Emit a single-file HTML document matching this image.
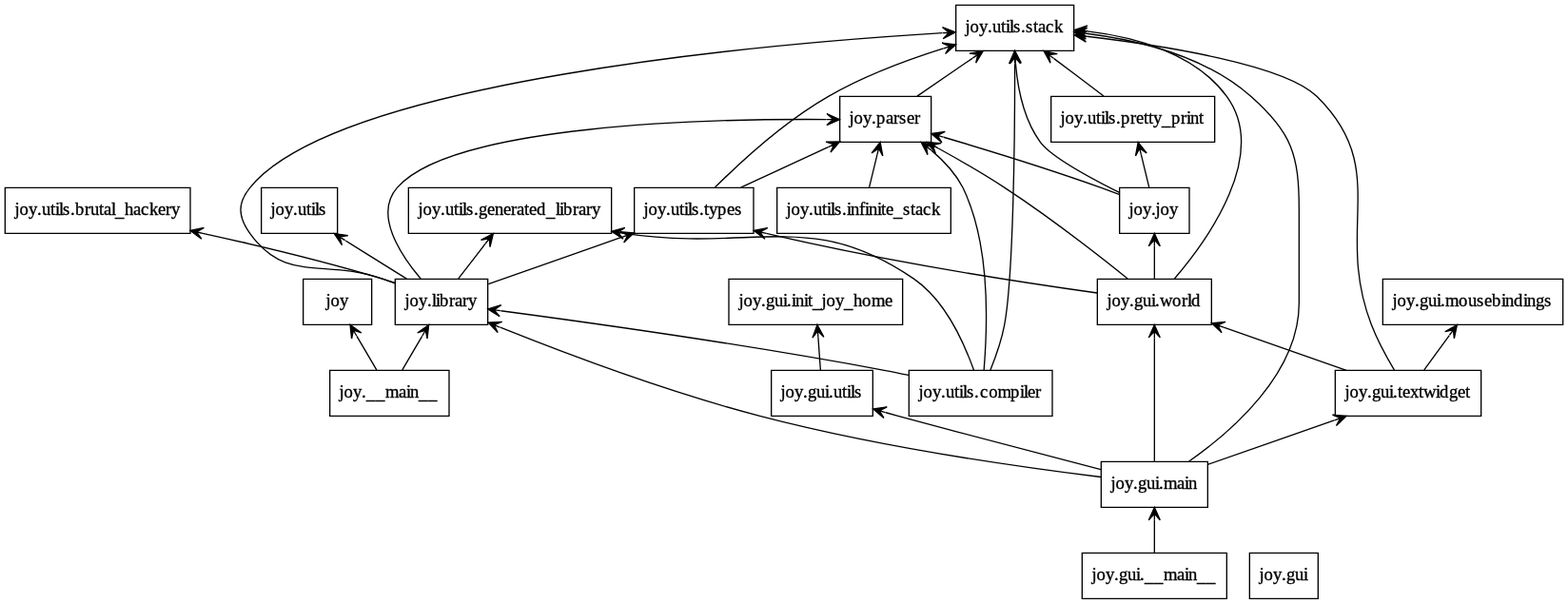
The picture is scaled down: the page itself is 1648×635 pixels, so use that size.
<!DOCTYPE html>
<html lang="en">
<head>
<meta charset="utf-8">
<title>packages</title>
<style>
html,body{margin:0;padding:0;background:#fff;}
body{width:1648px;height:635px;overflow:hidden;}
svg{display:block;will-change:transform;}
svg text{font-family:"Liberation Serif","Times New Roman",Times,serif;font-size:14px;fill:#000;stroke:#000;stroke-width:0.26px;}
</style>
</head>
<body>
<svg width="1648" height="635" viewBox="0 0 1236 476.25">
<g id="graph0" class="graph" transform="scale(1 1) rotate(0) translate(4 472)">
<polygon fill="white" stroke="none" points="-4,4 -4,-472 1232,-472 1232,4 -4,4"/>
<g class="node">
<polygon fill="none" stroke="black" points="289,-252 235,-252 235,-216 289,-216 289,-252"/>
<text x="252.8 256.55 263.75" y="-230.5">joy</text>
</g>
<g class="node">
<polygon fill="none" stroke="black" points="350,-180 256,-180 256,-144 350,-144 350,-180"/>
<text x="263.3 267.05 274.25 281 284.75 292.25 299.75 310.25 316.25 319.25 326 333.5" y="-158.5 -158.5 -158.5 -158.5 -157.075 -157.075 -158.5 -158.5 -158.5 -158.5 -157.075 -157.075">joy.__main__</text>
</g>
<g class="edge">
<path fill="none" stroke="black" d="M292.87,-180.3C288.15,-188.36 282.44,-198.11 277.22,-207.02"/>
<polygon fill="black" stroke="black" points="272.02,-215.9 273.19,-204.99 274.55,-211.58 277.07,-207.27 277.07,-207.27 277.07,-207.27 274.55,-211.58 280.96,-209.54 272.02,-215.9 272.02,-215.9"/>
</g>
<g class="node">
<polygon fill="none" stroke="black" points="380.5,-252 307.5,-252 307.5,-216 380.5,-216 380.5,-252"/>
<text x="315.05 318.8 326 332.75 336.5 339.5 342.5 350 354.5 360.5 365" y="-230.5">joy.library</text>
</g>
<g class="edge">
<path fill="none" stroke="black" d="M313.13,-180.3C317.85,-188.36 323.56,-198.11 328.78,-207.02"/>
<polygon fill="black" stroke="black" points="333.98,-215.9 325.04,-209.54 331.45,-211.58 328.93,-207.27 328.93,-207.27 328.93,-207.27 331.45,-211.58 332.81,-204.99 333.98,-215.9 333.98,-215.9"/>
</g>
<g class="node">
<polygon fill="none" stroke="black" points="1035,-36 981,-36 981,0 1035,0 1035,-36"/>
<text x="988.55 992.3 999.5 1006.25 1010 1016.75 1023.5" y="-14.5">joy.gui</text>
</g>
<g class="node">
<polygon fill="none" stroke="black" points="963,-36 849,-36 849,0 963,0 963,-36"/>
<text x="856.55 860.3 867.5 874.25 878 884.75 891.5 894.5 898.25 905.75 913.25 923.75 929.75 932.75 939.5 947" y="-14.5 -14.5 -14.5 -14.5 -14.5 -14.5 -14.5 -14.5 -13.075 -13.075 -14.5 -14.5 -14.5 -14.5 -13.075 -13.075">joy.gui.__main__</text>
</g>
<g class="node">
<polygon fill="none" stroke="black" points="948,-108 864,-108 864,-72 948,-72 948,-108"/>
<text x="871.55 875.3 882.5 889.25 893 899.75 906.5 909.5 913.25 923.75 929.75 932.75" y="-86.5">joy.gui.main</text>
</g>
<g class="edge">
<path fill="none" stroke="black" d="M906,-36.3C906,-44.02 906,-53.29 906,-61.89"/>
<polygon fill="black" stroke="black" points="906,-71.9 901.5,-61.9 906,-66.9 906,-61.9 906,-61.9 906,-61.9 906,-66.9 910.5,-61.9 906,-71.9 906,-71.9"/>
</g>
<g class="node">
<polygon fill="none" stroke="black" points="707.5,-252 570.5,-252 570.5,-216 707.5,-216 707.5,-252"/>
<text x="578.3 582.05 589.25 596 599.75 606.5 613.25 616.25 620 623 629.75 632.75 636.5 643.55 647.3 654.5 661.25 668.75 675.5 683 693.5" y="-230.5 -230.5 -230.5 -230.5 -230.5 -230.5 -230.5 -230.5 -230.5 -230.5 -230.5 -230.5 -229.075 -230.5 -230.5 -230.5 -229.075 -230.5 -230.5 -230.5 -230.5">joy.gui.init_joy_home</text>
</g>
<g class="node">
<polygon fill="none" stroke="black" points="1163.5,-180 1048.5,-180 1048.5,-144 1163.5,-144 1163.5,-180"/>
<text x="1056.05 1059.8 1067 1073.75 1077.5 1084.25 1091 1094 1097.75 1101.5 1107.5 1114.25 1118 1127.75 1130.75 1138.25 1145 1151" y="-158.5">joy.gui.textwidget</text>
</g>
<g class="edge">
<path fill="none" stroke="black" d="M948.41,-105.85C977.3,-115.96 1015.92,-129.47 1047.69,-140.59"/>
<polygon fill="black" stroke="black" points="1057.31,-143.96 1046.39,-144.9 1052.59,-142.31 1047.88,-140.66 1047.88,-140.66 1047.88,-140.66 1052.59,-142.31 1049.36,-136.41 1057.31,-143.96 1057.31,-143.96"/>
</g>
<g class="node">
<polygon fill="none" stroke="black" points="684,-180 604,-180 604,-144 684,-144 684,-180"/>
<text x="611.3 615.05 622.25 629 632.75 639.5 646.25 649.25 653 659.75 663.5 666.5 669.5" y="-158.5">joy.gui.utils</text>
</g>
<g class="edge">
<path fill="none" stroke="black" d="M863.77,-101.83C822.85,-112.37 759.09,-128.97 704,-144 700.81,-144.87 697.54,-145.77 694.23,-146.69"/>
<polygon fill="black" stroke="black" points="684.31,-149.46 692.73,-142.44 689.13,-148.12 693.94,-146.77 693.94,-146.77 693.94,-146.77 689.13,-148.12 695.16,-151.1 684.31,-149.46 684.31,-149.46"/>
</g>
<g class="node">
<polygon fill="none" stroke="black" points="951,-252 861,-252 861,-216 951,-216 951,-252"/>
<text x="868.55 872.3 879.5 886.25 890 896.75 903.5 906.5 910.25 920 927.5 932 935" y="-230.5">joy.gui.world</text>
</g>
<g class="edge">
<path fill="none" stroke="black" d="M906,-108.13C906,-132.33 906,-176.79 906,-205.61"/>
<polygon fill="black" stroke="black" points="906,-215.81 901.5,-205.81 906,-210.81 906,-205.81 906,-205.81 906,-205.81 906,-210.81 910.5,-205.81 906,-215.81 906,-215.81"/>
</g>
<g class="edge">
<path fill="none" stroke="black" d="M863.76,-95.86C803.49,-103.31 689.61,-119.36 595,-144 522.01,-163.01 440.13,-193.93 390.32,-213.86"/>
<polygon fill="black" stroke="black" points="380.8,-217.7 388.39,-209.79 385.44,-215.83 390.07,-213.96 390.07,-213.96 390.07,-213.96 385.44,-215.83 391.75,-218.14 380.8,-217.7 380.8,-217.7"/>
</g>
<g class="node">
<polygon fill="none" stroke="black" points="842.5,-468 749.5,-468 749.5,-432 842.5,-432 842.5,-468"/>
<text x="756.8 760.55 767.75 774.5 778.25 785 788.75 791.75 794.75 800.75 804.5 810.5 814.25 820.25 827" y="-446.5">joy.utils.stack</text>
</g>
<g class="edge">
<path fill="none" stroke="black" d="M933.02,-108.04C966.73,-131.63 1020,-177.67 1020,-233 1020,-233 1020,-233 1020,-307 1020,-350.01 1014.27,-367.56 982,-396 946.24,-427.52 892.94,-440.38 852.55,-445.58"/>
<polygon fill="black" stroke="black" points="842.58,-446.75 851.99,-441.12 847.55,-446.17 852.51,-445.59 852.51,-445.59 852.51,-445.59 847.55,-446.17 853.03,-450.06 842.58,-446.75 842.58,-446.75"/>
</g>
<g class="node">
<polygon fill="none" stroke="black" points="1228,-252 1086,-252 1086,-216 1228,-216 1228,-252"/>
<text x="1093.55 1097.3 1104.5 1111.25 1115 1121.75 1128.5 1131.5 1135.25 1145.75 1153.25 1160 1166 1172 1179.5 1182.5 1189.25 1196.75 1199.75 1206.5 1213.25" y="-230.5">joy.gui.mousebindings</text>
</g>
<g class="edge">
<path fill="none" stroke="black" d="M1118.61,-180.3C1124.6,-188.53 1131.88,-198.52 1138.48,-207.58"/>
<polygon fill="black" stroke="black" points="1144.54,-215.9 1135.01,-210.46 1141.59,-211.85 1138.65,-207.81 1138.65,-207.81 1138.65,-207.81 1141.59,-211.85 1142.29,-205.16 1144.54,-215.9 1144.54,-215.9"/>
</g>
<g class="edge">
<path fill="none" stroke="black" d="M1057.33,-180.03C1028.12,-190.26 990.88,-203.29 960.66,-213.87"/>
<polygon fill="black" stroke="black" points="951.11,-217.21 959.07,-209.66 955.83,-215.56 960.55,-213.91 960.55,-213.91 960.55,-213.91 955.83,-215.56 962.04,-218.15 951.11,-217.21 951.11,-217.21"/>
</g>
<g class="edge">
<path fill="none" stroke="black" d="M1095.12,-180.1C1089.07,-190.22 1081.82,-203.47 1077,-216 1047.44,-292.76 1092.61,-338.29 1034,-396 1008.75,-420.86 914.73,-435.88 852.69,-443.29"/>
<polygon fill="black" stroke="black" points="842.64,-444.45 852.05,-438.83 847.61,-443.88 852.57,-443.3 852.57,-443.3 852.57,-443.3 847.61,-443.88 853.09,-447.77 842.64,-444.45 842.64,-444.45"/>
</g>
<g class="edge">
<path fill="none" stroke="black" d="M642.76,-180.3C642.21,-188.02 641.55,-197.29 640.94,-205.89"/>
<polygon fill="black" stroke="black" points="640.22,-215.9 636.45,-205.6 640.58,-210.91 640.93,-205.92 640.93,-205.92 640.93,-205.92 640.58,-210.91 645.42,-206.24 640.22,-215.9 640.22,-215.9"/>
</g>
<g class="node">
<polygon fill="none" stroke="black" points="933.5,-324 878.5,-324 878.5,-288 933.5,-288 933.5,-324"/>
<text x="885.8 889.55 896.75 903.5 906.8 910.55 917.75" y="-302.5">joy.joy</text>
</g>
<g class="edge">
<path fill="none" stroke="black" d="M906,-252.3C906,-260.02 906,-269.29 906,-277.89"/>
<polygon fill="black" stroke="black" points="906,-287.9 901.5,-277.9 906,-282.9 906,-277.9 906,-277.9 906,-277.9 906,-282.9 910.5,-277.9 906,-287.9 906,-287.9"/>
</g>
<g class="node">
<polygon fill="none" stroke="black" points="730,-396 658,-396 658,-360 730,-360 730,-396"/>
<text x="665.3 669.05 676.25 683 686.75 694.25 700.25 704.75 710.75 716.75" y="-374.5">joy.parser</text>
</g>
<g class="edge">
<path fill="none" stroke="black" d="M884.87,-252.29C861.73,-270.9 823.2,-300.94 788,-324 771.34,-334.91 752.3,-345.9 735.74,-355.02"/>
<polygon fill="black" stroke="black" points="726.82,-359.88 733.45,-351.15 731.21,-357.49 735.6,-355.1 735.6,-355.1 735.6,-355.1 731.21,-357.49 737.76,-359.05 726.82,-359.88 726.82,-359.88"/>
</g>
<g class="edge">
<path fill="none" stroke="black" d="M921.63,-252.03C948.25,-283.17 996.45,-350.3 963,-396 938.04,-430.11 890.98,-442.8 853.17,-447.28"/>
<polygon fill="black" stroke="black" points="842.77,-448.34 852.27,-442.85 847.75,-447.83 852.72,-447.33 852.72,-447.33 852.72,-447.33 847.75,-447.83 853.18,-451.81 842.77,-448.34 842.77,-448.34"/>
</g>
<g class="node">
<polygon fill="none" stroke="black" points="590,-324 496,-324 496,-288 590,-288 590,-324"/>
<text x="503.3 507.05 514.25 521 524.75 531.5 535.25 538.25 541.25 547.25 551 554.75 561.5 569 575" y="-302.5">joy.utils.types</text>
</g>
<g class="edge">
<path fill="none" stroke="black" d="M860.91,-241C802.68,-249.14 698.11,-265.09 600.02,-287.91"/>
<polygon fill="black" stroke="black" points="590.24,-290.21 598.95,-283.54 595.11,-289.06 599.98,-287.92 599.98,-287.92 599.98,-287.92 595.11,-289.06 601.01,-292.3 590.24,-290.21 590.24,-290.21"/>
</g>
<g class="edge">
<path fill="none" stroke="black" d="M878.11,-318.66C873.42,-320.51 868.59,-322.36 864,-324 822.4,-338.87 774.28,-353.66 739.87,-363.81"/>
<polygon fill="black" stroke="black" points="730.1,-366.68 738.43,-359.55 734.9,-365.27 739.7,-363.87 739.7,-363.87 739.7,-363.87 734.9,-365.27 740.97,-368.18 730.1,-366.68 730.1,-366.68"/>
</g>
<g class="node">
<polygon fill="none" stroke="black" points="953.5,-396 824.5,-396 824.5,-360 953.5,-360 953.5,-396"/>
<text x="831.8 835.55 842.75 849.5 853.25 860 863.75 866.75 869.75 875.75 879.5 887 891.5 897.5 901.25 905 911.75 919.25 926.75 931.25 934.25 941" y="-374.5 -374.5 -374.5 -374.5 -374.5 -374.5 -374.5 -374.5 -374.5 -374.5 -374.5 -374.5 -374.5 -374.5 -374.5 -374.5 -373.075 -374.5 -374.5 -374.5 -374.5 -374.5">joy.utils.pretty_print</text>
</g>
<g class="edge">
<path fill="none" stroke="black" d="M901.8,-324.3C899.9,-332.1 897.62,-341.49 895.52,-350.17"/>
<polygon fill="black" stroke="black" points="893.15,-359.9 891.14,-349.12 894.33,-355.04 895.51,-350.18 895.51,-350.18 895.51,-350.18 894.33,-355.04 899.89,-351.24 893.15,-359.9 893.15,-359.9"/>
</g>
<g class="edge">
<path fill="none" stroke="black" d="M878.44,-320.16C855.12,-331.83 824.22,-348.72 816,-360 802.92,-377.95 798.17,-402.95 796.55,-421.88"/>
<polygon fill="black" stroke="black" points="795.92,-431.96 792.05,-421.7 796.23,-426.97 796.54,-421.98 796.54,-421.98 796.54,-421.98 796.23,-426.97 801.03,-422.25 795.92,-431.96 795.92,-431.96"/>
</g>
<g class="edge">
<path fill="none" stroke="black" d="M327.64,-252.21C311.23,-271.59 290.78,-303.1 309,-324 352.44,-373.83 554.94,-378.43 647.55,-377.84"/>
<polygon fill="black" stroke="black" points="657.76,-377.76 647.8,-382.34 652.76,-377.8 647.76,-377.84 647.76,-377.84 647.76,-377.84 652.76,-377.8 647.72,-373.34 657.76,-377.76 657.76,-377.76"/>
</g>
<g class="node">
<polygon fill="none" stroke="black" points="262,-324 202,-324 202,-288 262,-288 262,-324"/>
<text x="209.3 213.05 220.25 227 230.75 237.5 241.25 244.25 247.25" y="-302.5">joy.utils</text>
</g>
<g class="edge">
<path fill="none" stroke="black" d="M316.6,-252.12C302.09,-261.19 284.08,-272.45 268.41,-282.24"/>
<polygon fill="black" stroke="black" points="259.5,-287.81 265.6,-278.69 263.74,-285.16 267.98,-282.51 267.98,-282.51 267.98,-282.51 263.74,-285.16 270.37,-286.33 259.5,-287.81 259.5,-287.81"/>
</g>
<g class="node">
<polygon fill="none" stroke="black" points="146,-324 0,-324 0,-288 146,-288 146,-324"/>
<text x="7.55 11.3 18.5 25.25 29 35.75 39.5 42.5 45.5 51.5 55.25 62.75 67.25 74 77.75 83.75 86.75 94.25 101 107 113.75 120.5 126.5 131" y="-302.5 -302.5 -302.5 -302.5 -302.5 -302.5 -302.5 -302.5 -302.5 -302.5 -302.5 -302.5 -302.5 -302.5 -302.5 -302.5 -301.075 -302.5 -302.5 -302.5 -302.5 -302.5 -302.5 -302.5">joy.utils.brutal_hackery</text>
</g>
<g class="edge">
<path fill="none" stroke="black" d="M307.48,-248.96C304.29,-250.04 301.1,-251.07 298,-252 251.48,-266.02 198.64,-278.63 155.86,-288.03"/>
<polygon fill="black" stroke="black" points="146.05,-290.17 154.86,-283.64 150.94,-289.11 155.82,-288.04 155.82,-288.04 155.82,-288.04 150.94,-289.11 156.78,-292.44 146.05,-290.17 146.05,-290.17"/>
</g>
<g class="node">
<polygon fill="none" stroke="black" points="478,-324 318,-324 318,-288 478,-288 478,-324"/>
<text x="325.55 329.3 336.5 343.25 347 353.75 357.5 360.5 363.5 369.5 373.25 380 386 392.75 398.75 403.25 409.25 413 419 426.5 434 437 440 447.5 452 458 462.5" y="-302.5 -302.5 -302.5 -302.5 -302.5 -302.5 -302.5 -302.5 -302.5 -302.5 -302.5 -302.5 -302.5 -302.5 -302.5 -302.5 -302.5 -302.5 -302.5 -301.075 -302.5 -302.5 -302.5 -302.5 -302.5 -302.5 -302.5">joy.utils.generated_library</text>
</g>
<g class="edge">
<path fill="none" stroke="black" d="M357.35,-252.3C363.76,-260.61 371.56,-270.72 378.61,-279.86"/>
<polygon fill="black" stroke="black" points="384.81,-287.9 375.13,-282.73 381.75,-283.94 378.7,-279.98 378.7,-279.98 378.7,-279.98 381.75,-283.94 382.26,-277.23 384.81,-287.9 384.81,-287.9"/>
</g>
<g class="edge">
<path fill="none" stroke="black" d="M307.37,-248.63C304.2,-249.78 301.05,-250.91 298,-252 251.53,-268.55 221.67,-247.86 193,-288 183.7,-301.02 182.9,-311.59 193,-324 261.66,-408.35 602.03,-437.58 738.88,-446.02"/>
<polygon fill="black" stroke="black" points="749.16,-446.64 738.9,-450.53 744.17,-446.34 739.17,-446.04 739.17,-446.04 739.17,-446.04 744.17,-446.34 739.44,-441.55 749.16,-446.64 749.16,-446.64"/>
</g>
<g class="edge">
<path fill="none" stroke="black" d="M380.96,-248C410.43,-258.37 452.19,-273.06 485.94,-284.93"/>
<polygon fill="black" stroke="black" points="495.68,-288.36 484.76,-289.28 490.97,-286.7 486.25,-285.04 486.25,-285.04 486.25,-285.04 490.97,-286.7 487.74,-280.79 495.68,-288.36 495.68,-288.36"/>
</g>
<g class="edge">
<path fill="none" stroke="black" d="M718.95,-396.12C732.04,-405.11 748.26,-416.24 762.44,-425.97"/>
<polygon fill="black" stroke="black" points="770.95,-431.81 760.16,-429.86 766.83,-428.98 762.71,-426.15 762.71,-426.15 762.71,-426.15 766.83,-428.98 765.25,-422.44 770.95,-431.81 770.95,-431.81"/>
</g>
<g class="node">
<polygon fill="none" stroke="black" points="825.5,-180 712.5,-180 712.5,-144 825.5,-144 825.5,-180"/>
<text x="720.05 723.8 731 737.75 741.5 748.25 752 755 758 764 768.425 775.475 782.375 792.5 800 803 806 812" y="-158.5">joy.utils.compiler</text>
</g>
<g class="edge">
<path fill="none" stroke="black" d="M712.23,-176.15C705.76,-177.51 699.25,-178.83 693,-180 585.37,-200.19 457.95,-218.01 390.81,-226.94"/>
<polygon fill="black" stroke="black" points="380.57,-228.3 389.89,-222.52 385.52,-227.64 390.48,-226.99 390.48,-226.99 390.48,-226.99 385.52,-227.64 391.07,-231.45 380.57,-228.3 380.57,-228.3"/>
</g>
<g class="edge">
<path fill="none" stroke="black" d="M771.6,-180.11C774.1,-210.82 778.1,-276.5 755,-324 749.23,-335.33 739.9,-345.28 730.25,-353.41"/>
<polygon fill="black" stroke="black" points="722.15,-359.8 727.22,-350.07 726.08,-356.7 730,-353.6 730,-353.6 730,-353.6 726.08,-356.7 732.79,-357.14 722.15,-359.8 722.15,-359.8"/>
</g>
<g class="edge">
<path fill="none" stroke="black" d="M763.6,-180.22C756.2,-200.84 741.5,-234.76 716.6,-252 634.11,-308.54 591.56,-272.62 487.92,-287.99"/>
<polygon fill="black" stroke="black" points="478.03,-289.58 487.19,-283.55 482.97,-288.79 487.9,-287.99 487.9,-287.99 487.9,-287.99 482.97,-288.79 488.62,-292.43 478.03,-289.58 478.03,-289.58"/>
</g>
<g class="edge">
<path fill="none" stroke="black" d="M776.7,-180.33C780.85,-190.52 785.5,-203.77 787.8,-216 795,-254.65 796,-368.73 795.93,-421.57"/>
<polygon fill="black" stroke="black" points="795.98,-431.86 791.43,-421.88 795.95,-426.86 795.93,-421.86 795.93,-421.86 795.93,-421.86 795.95,-426.86 800.43,-421.84 795.98,-431.86 795.98,-431.86"/>
</g>
<g class="node">
<polygon fill="none" stroke="black" points="745.5,-324 608.5,-324 608.5,-288 745.5,-288 745.5,-324"/>
<text x="615.8 619.55 626.75 633.5 637.25 644 647.75 650.75 653.75 659.75 663.5 666.5 673.25 677.75 680.75 687.5 690.5 694.25 700.25 707.75 713.75 717.5 723.5 730.25" y="-302.5 -302.5 -302.5 -302.5 -302.5 -302.5 -302.5 -302.5 -302.5 -302.5 -302.5 -302.5 -302.5 -302.5 -302.5 -302.5 -302.5 -302.5 -301.075 -302.5 -302.5 -302.5 -302.5 -302.5">joy.utils.infinite_stack</text>
</g>
<g class="edge">
<path fill="none" stroke="black" d="M681.2,-324.3C683.1,-332.1 685.38,-341.49 687.48,-350.17"/>
<polygon fill="black" stroke="black" points="689.85,-359.9 683.11,-351.24 688.67,-355.04 687.49,-350.18 687.49,-350.18 687.49,-350.18 688.67,-355.04 691.86,-349.12 689.85,-359.9 689.85,-359.9"/>
</g>
<g class="edge">
<path fill="none" stroke="black" d="M866.01,-396.3C854.19,-405.2 839.61,-416.18 826.82,-425.8"/>
<polygon fill="black" stroke="black" points="818.72,-431.9 824.01,-422.29 822.72,-428.89 826.71,-425.88 826.71,-425.88 826.71,-425.88 822.72,-428.89 829.42,-429.48 818.72,-431.9 818.72,-431.9"/>
</g>
<g class="edge">
<path fill="none" stroke="black" d="M579.94,-324.12C600.72,-333.76 626.83,-345.86 648.82,-356.05"/>
<polygon fill="black" stroke="black" points="657.96,-360.29 647,-360.17 653.43,-358.19 648.89,-356.09 648.89,-356.09 648.89,-356.09 653.43,-358.19 650.78,-352.01 657.96,-360.29 657.96,-360.29"/>
</g>
<g class="edge">
<path fill="none" stroke="black" d="M559.56,-324.18C579.3,-343.83 614.01,-375.86 649,-396 677.29,-412.28 711.46,-424.97 739.73,-433.84"/>
<polygon fill="black" stroke="black" points="749.46,-436.82 738.59,-438.19 744.68,-435.35 739.9,-433.89 739.9,-433.89 739.9,-433.89 744.68,-435.35 741.22,-429.59 749.46,-436.82 749.46,-436.82"/>
</g>
</g>
</svg>

</body>
</html>
